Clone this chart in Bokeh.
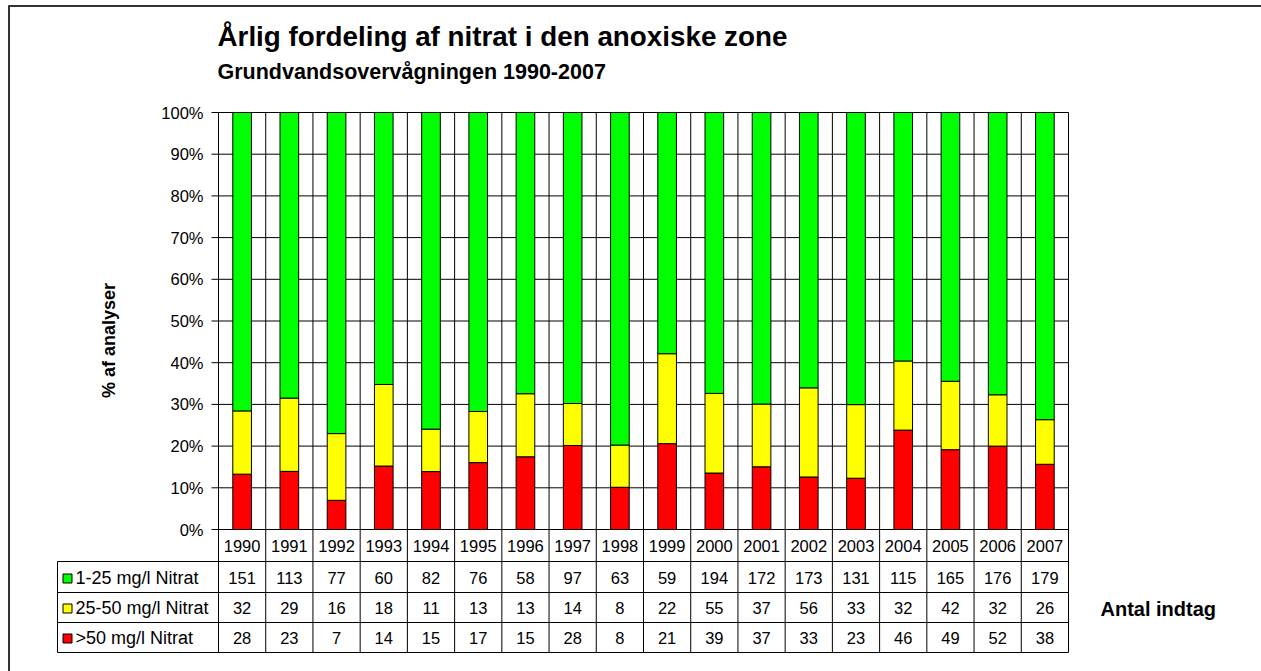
import math
from bokeh.plotting import figure
from bokeh.models import ColumnDataSource, Range1d
from bokeh.core.properties import value
from bokeh.embed import file_html
from bokeh.resources import INLINE

# ---------------- data ----------------
years = ["1990", "1991", "1992", "1993", "1994", "1995", "1996", "1997", "1998",
         "1999", "2000", "2001", "2002", "2003", "2004", "2005", "2006", "2007"]
green_counts = [151, 113, 77, 60, 82, 76, 58, 97, 63, 59, 194, 172, 173, 131, 115, 165, 176, 179]
yellow_counts = [32, 29, 16, 18, 11, 13, 13, 14, 8, 22, 55, 37, 56, 33, 32, 42, 32, 26]
red_counts = [28, 23, 7, 14, 15, 17, 15, 28, 8, 21, 39, 37, 33, 23, 46, 49, 52, 38]
series_labels = ["1-25 mg/l Nitrat", "25-50 mg/l Nitrat", ">50 mg/l Nitrat"]
series_colors = ["#00FF00", "#FFFF00", "#FF0000"]
y_ticks = [0, 10, 20, 30, 40, 50, 60, 70, 80, 90, 100]

title_text = "Årlig fordeling af nitrat i den anoxiske zone"
subtitle_text = "Grundvandsovervågningen 1990-2007"
ylabel_text = "% af analyser"
table_note = "Antal indtag"

FONT = value("Liberation Sans")

# ---------------- layout (page pixels -> data units) ----------------
W, H = 1261, 671
FX, FY = 0, 0
PX0, PX1 = 218, 1068        # plot area left/right (page px)
PY0, PY100 = 529, 112       # 0% and 100% (page px)
n = len(years)
CW = (PX1 - PX0) / n
PP = (PY0 - PY100) / 100.0


def X(px):
    return (px - PX0) / CW


def Y(py):
    return (PY0 - py) / PP


p = figure(width=W, height=H, x_range=Range1d(X(FX), X(FX + W)),
           y_range=Range1d(Y(FY + H), Y(FY)), output_backend="svg",
           toolbar_location=None, min_border=0, x_axis_type=None, y_axis_type=None)
p.outline_line_color = None
p.grid.visible = False
p.background_fill_color = "white"
p.border_fill_color = "white"

# ---------------- bars ----------------
totals = [g + y + r for g, y, r in zip(green_counts, yellow_counts, red_counts)]
src = ColumnDataSource(dict(
    x=[i + 0.5 for i in range(n)],
    red=[r / t * 100 for r, t in zip(red_counts, totals)],
    yellow=[y / t * 100 for y, t in zip(yellow_counts, totals)],
    green=[g / t * 100 for g, t in zip(green_counts, totals)],
))

# grid lines (behind bars)
hl = [t for t in y_ticks if t > 0]
p.segment(x0=[0] * len(hl), x1=[n] * len(hl), y0=hl, y1=hl, line_color="#000000", line_width=1)

p.vbar_stack(["red", "yellow", "green"], x="x", width=0.395, source=src,
             color=[series_colors[2], series_colors[1], series_colors[0]],
             line_color="#000000", line_width=1)

# vertical category boundaries (plot + table)
vb = list(range(n + 1))
p.segment(x0=vb, x1=vb, y0=[Y(652)] * len(vb), y1=[100] * len(vb),
          line_color="#000000", line_width=1)
# 0% axis line and tick marks
p.segment(x0=[X(211)] * len(y_ticks), x1=[0] * len(y_ticks), y0=y_ticks, y1=y_ticks,
          line_color="#000000", line_width=1)
p.segment(x0=[0], x1=[n], y0=[0], y1=[0], line_color="#000000", line_width=1)

# y tick labels
p.text(x=[X(203)] * len(y_ticks), y=y_ticks, text=[f"{t}%" for t in y_ticks],
       text_align="right", text_baseline="middle", text_font=FONT,
       text_font_size="16.5px", text_color="#000000")

# ---------------- data table ----------------
row_lines = [561, 592, 622, 652]
p.segment(x0=[X(57)] * len(row_lines), x1=[n] * len(row_lines),
          y0=[Y(r) for r in row_lines], y1=[Y(r) for r in row_lines],
          line_color="#000000", line_width=1)
p.segment(x0=[X(57)], x1=[X(57)], y0=[Y(561)], y1=[Y(652)], line_color="#000000", line_width=1)

xc = [i + 0.5 for i in range(n)]
p.text(x=xc, y=[Y(545)] * n, text=years, text_align="center", text_baseline="middle",
       text_font=FONT, text_font_size="16.5px", text_color="#000000")

row_centers = [577, 607, 637]
for rc, counts, lab, col in zip(row_centers, [green_counts, yellow_counts, red_counts],
                                series_labels, series_colors):
    p.text(x=xc, y=[Y(rc)] * n, text=[str(c) for c in counts], text_align="center",
           text_baseline="middle", text_font=FONT, text_font_size="16.5px", text_color="#000000")
    p.scatter(x=[X(67)], y=[Y(rc + 1)], marker="square", size=9, fill_color=col,
              line_color="#000000", line_width=1)
    p.text(x=[X(75)], y=[Y(rc)], text=[lab], text_align="left", text_baseline="middle",
           text_font=FONT, text_font_size="18px", text_color="#000000")

p.text(x=[X(1100)], y=[Y(608)], text=[table_note], text_align="left", text_baseline="middle",
       text_font=FONT, text_font_size="20px", text_font_style="bold", text_color="#000000")

# ---------------- titles ----------------
p.text(x=[X(217)], y=[Y(36)], text=[title_text], text_align="left", text_baseline="middle",
       text_font=FONT, text_font_size="27.8px", text_font_style="bold", text_color="#000000")
p.text(x=[X(217)], y=[Y(71)], text=[subtitle_text], text_align="left", text_baseline="middle",
       text_font=FONT, text_font_size="21.5px", text_font_style="bold", text_color="#000000")
p.text(x=[X(108)], y=[Y(340)], text=[ylabel_text], angle=math.pi / 2, text_align="center",
       text_baseline="middle", text_font=FONT, text_font_size="18px",
       text_font_style="bold", text_color="#000000")

# ---------------- outer frame (top + left) ----------------
p.segment(x0=[X(8)], x1=[X(FX + W)], y0=[Y(5.5)], y1=[Y(5.5)],
          line_color="#333333", line_width=2)
p.segment(x0=[X(8.5)], x1=[X(8.5)], y0=[Y(5)], y1=[Y(FY + H)],
          line_color="#333333", line_width=2)

open("out.html", "w").write(file_html(p, INLINE))
